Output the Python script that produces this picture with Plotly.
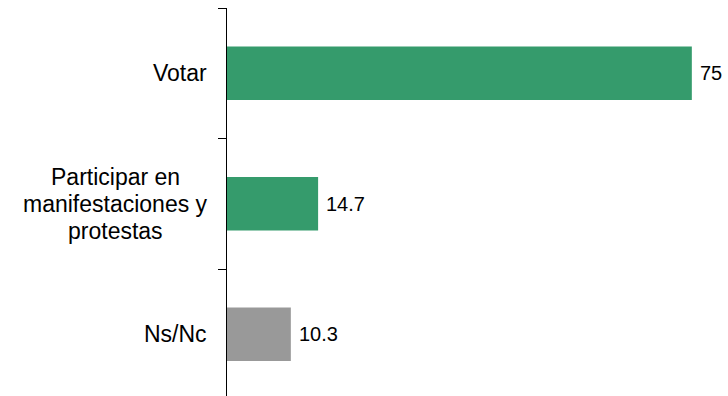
import plotly.graph_objects as go

categories = ["Votar", "Participar en<br>manifestaciones y<br>protestas", "Ns/Nc"]
values = [75, 14.7, 10.3]
value_labels = ["75", "14.7", "10.3"]
colors = ["#359B6C", "#359B6C", "#999999"]

FONT = "Liberation Sans, Arial, sans-serif"

fig = go.Figure(
    go.Bar(
        y=categories,
        x=values,
        orientation="h",
        marker=dict(color=colors, line=dict(width=0)),
        width=0.41,
        hoverinfo="x+y",
    )
)

annotations = []
# category labels left of the axis; multi-line blocks are centred line by line
for cat in categories:
    lines = cat.split("<br>")
    n = len(lines)
    if n == 1:
        annotations.append(dict(
            x=0, xref="paper", y=cat, yref="y",
            text=cat, showarrow=False,
            xanchor="right", yanchor="middle", xshift=-18,
            font=dict(size=23, color="#000000", family=FONT),
        ))
    else:
        for i, line in enumerate(lines):
            annotations.append(dict(
                x=0, xref="paper", y=cat, yref="y",
                text=line, showarrow=False,
                xanchor="center", yanchor="middle",
                xshift=-112, yshift=((n - 1) / 2 - i) * 27,
                font=dict(size=23, color="#000000", family=FONT),
            ))
# value labels at the end of each bar
for cat, v, lab in zip(categories, values, value_labels):
    annotations.append(dict(
        x=v, xref="x", y=cat, yref="y",
        text=lab, showarrow=False,
        xanchor="left", yanchor="middle", xshift=6,
        font=dict(size=20, color="#000000", family=FONT),
    ))

fig.update_layout(
    width=728,
    height=396,
    margin=dict(l=227, r=12, t=8, b=0, autoexpand=False),
    paper_bgcolor="white",
    plot_bgcolor="white",
    font=dict(family=FONT, size=20, color="#000000"),
    showlegend=False,
    annotations=annotations,
    xaxis=dict(
        range=[0, 78.9],
        visible=False,
        showgrid=False,
        zeroline=False,
        automargin=False,
    ),
    yaxis=dict(
        type="category",
        categoryorder="array",
        categoryarray=categories,
        range=[2.473, -0.5],
        showline=True,
        linecolor="#000000",
        linewidth=1,
        ticks="outside",
        ticklen=8,
        tickwidth=1,
        tickcolor="#000000",
        tickson="boundaries",
        showticklabels=False,
        showgrid=False,
        zeroline=False,
        automargin=False,
    ),
)

fig.write_html(
    "out.html",
    config={"displayModeBar": False},
    post_script="document.body.style.margin='0';document.body.style.overflow='hidden';",
)
